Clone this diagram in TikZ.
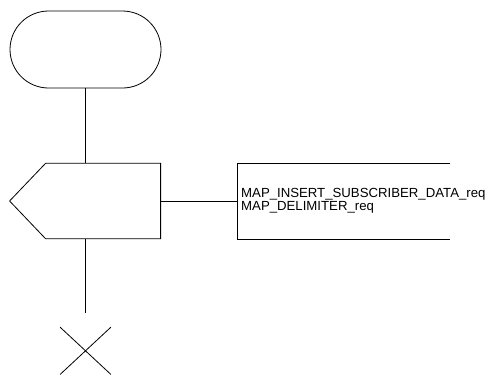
\documentclass[tikz,border=0pt]{standalone}
\usepackage{fontspec}
\setmainfont{Liberation Sans}
\usetikzlibrary{positioning,shapes.misc,shapes.symbols}

\begin{document}
\begin{tikzpicture}[
    x=1pt, y=1pt,
    node distance=75.5pt and 76pt,
    % --- Node styles ---
    terminal/.style={
      rounded rectangle, draw, line width=0.8pt,
      minimum width=151pt, minimum height=77pt, inner sep=0pt,
    },
    sendsig/.style={
      signal, signal to=west, signal pointer angle=92.7,
      draw, line width=0.8pt,
      minimum width=151pt, minimum height=75.5pt, inner sep=0pt,
    },
    msgbox/.style={
      rectangle, draw=none,
      minimum width=213pt, minimum height=75.5pt, inner sep=0pt,
    },
    stopsym/.style={
      cross out, draw, line width=0.8pt,
      minimum width=50pt, minimum height=46.5pt, inner sep=0pt,
    },
    % --- Text style ---
    msgtext/.style={font=\fontsize{13.2}{13.5}\selectfont, align=left, inner sep=0pt},
    % --- Line style ---
    link/.style={line width=0.8pt},
  ]

    \useasboundingbox (0,0) rectangle (495,-376);

    % ===================== NODES =====================
    \node[terminal] (start) at (85.5,-49.5) {};
    \node[sendsig, anchor=east] (isd) at (161,-201) {};
    \node[msgbox, right=of isd]    (msg) {};
    \node[msgtext, anchor=west, xshift=4pt] (msglbl) at (msg.west)
      {MAP\_INSERT\_SUBSCRIBER\_DATA\_req\\MAP\_DELIMITER\_req};
    \coordinate (stopin) at ([yshift=-74pt]start |- isd.south);
    \node[stopsym, below=14pt of stopin] (stop) {};

    % ===================== CONNECTORS =====================
    \draw[link] (start) -- (start |- isd.north);
    \draw[link] (isd) -- (msg);
    \draw[link] (start |- isd.south) -- (stopin);

    % open message box
    \draw[link] (msg.north east) -- (msg.north west)
      -- (msg.south west) -- (msg.south east);

  \end{tikzpicture}
\end{document}
